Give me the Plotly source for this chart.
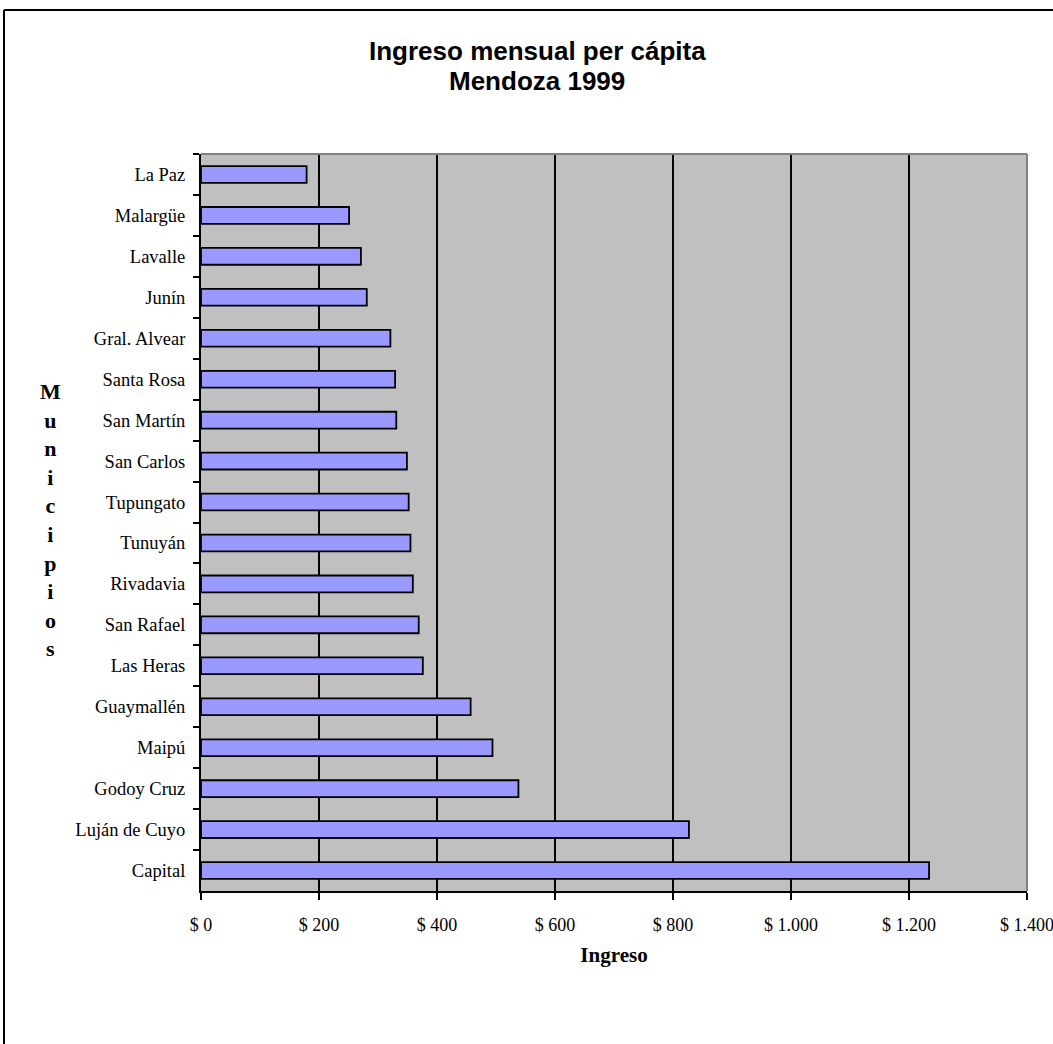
import plotly.graph_objects as go

# Municipios de Mendoza, de arriba hacia abajo
municipios = [
    "La Paz", "Malargüe", "Lavalle", "Junín", "Gral. Alvear", "Santa Rosa",
    "San Martín", "San Carlos", "Tupungato", "Tunuyán", "Rivadavia",
    "San Rafael", "Las Heras", "Guaymallén", "Maipú", "Godoy Cruz",
    "Luján de Cuyo", "Capital",
]
# Ingreso mensual per cápita ($)
ingreso = [
    179, 251, 271, 281, 321, 329,
    331, 349, 352, 355, 359,
    369, 376, 457, 494, 538,
    827, 1234,
]
tick_vals = [0, 200, 400, 600, 800, 1000, 1200, 1400]
tick_text = ["$ 0", "$ 200", "$ 400", "$ 600", "$ 800", "$ 1.000", "$ 1.200", "$ 1.400"]
titulo = ["Ingreso mensual per cápita", "Mendoza 1999"]

W, H = 1053, 1044
L, R, T, B = 201, 26, 154, 153
pw, ph = W - L - R, H - T - B


def px_x(x):
    return (x - L) / pw


def px_y(y):
    return 1 - (y - T) / ph


serif = "Liberation Serif, Times New Roman, serif"
sans = "Liberation Sans, Arial, sans-serif"

fig = go.Figure(
    go.Bar(
        x=ingreso,
        y=municipios,
        orientation="h",
        marker=dict(color="#9999FF", line=dict(color="black", width=1.8)),
        hoverinfo="x+y",
    )
)

# Título en dos líneas, centradas sobre el gráfico
title_annotations = [
    dict(
        text=f"<b>{line}</b>",
        xref="paper", yref="paper",
        x=px_x(537), y=px_y(yc),
        xanchor="center", yanchor="middle",
        showarrow=False,
        font=dict(family=sans, size=26, color="black"),
    )
    for line, yc in zip(titulo, [51, 81])
]

fig.update_layout(
    width=W,
    height=H,
    margin=dict(l=L, r=R, t=T, b=B, pad=0, autoexpand=False),
    paper_bgcolor="white",
    plot_bgcolor="#C0C0C0",
    bargap=0.59,
    showlegend=False,
    xaxis=dict(
        range=[0, 1400],
        automargin=False,
        tickvals=tick_vals,
        ticktext=tick_text,
        ticklabeloverflow="allow",
        showgrid=True,
        gridcolor="black",
        gridwidth=2,
        zeroline=False,
        showline=True,
        linecolor="black",
        linewidth=2,
        ticks="outside",
        ticklen=7,
        tickwidth=2,
        tickcolor="black",
        ticklabelstandoff=9,
        tickfont=dict(family=serif, size=18, color="black"),
        title=dict(
            text="<b>Ingreso</b>",
            font=dict(family=serif, size=21, color="black"),
            standoff=14,
        ),
    ),
    yaxis=dict(
        type="category",
        autorange="reversed",
        automargin=False,
        showgrid=False,
        zeroline=False,
        showline=True,
        linecolor="black",
        linewidth=2,
        ticks="outside",
        tickson="boundaries",
        ticklen=6,
        tickwidth=2,
        tickcolor="black",
        ticklabelstandoff=10,
        tickfont=dict(family=serif, size=18.5, color="black"),
    ),
    shapes=[
        # borde gris superior y derecho del área de trazado
        dict(type="line", xref="paper", yref="paper", x0=0, x1=1, y0=1, y1=1,
             line=dict(color="#808080", width=2), layer="above"),
        dict(type="line", xref="paper", yref="paper", x0=1, x1=1, y0=0, y1=1,
             line=dict(color="#808080", width=2), layer="above"),
        # marco del gráfico
        dict(type="line", xref="paper", yref="paper",
             x0=px_x(4), x1=px_x(W + 5), y0=px_y(10), y1=px_y(10),
             line=dict(color="black", width=2)),
        dict(type="line", xref="paper", yref="paper",
             x0=px_x(4), x1=px_x(4), y0=px_y(10), y1=px_y(H + 5),
             line=dict(color="black", width=2)),
    ],
    annotations=title_annotations + [
        dict(
            text="<br>".join("Municipios"),
            xref="paper", yref="paper",
            x=px_x(50), y=px_y(520),
            xanchor="center", yanchor="middle",
            showarrow=False,
            align="center",
            font=dict(family=serif, size=22, color="black", weight="bold"),
        )
    ],
)

fig.write_html("out.html")
